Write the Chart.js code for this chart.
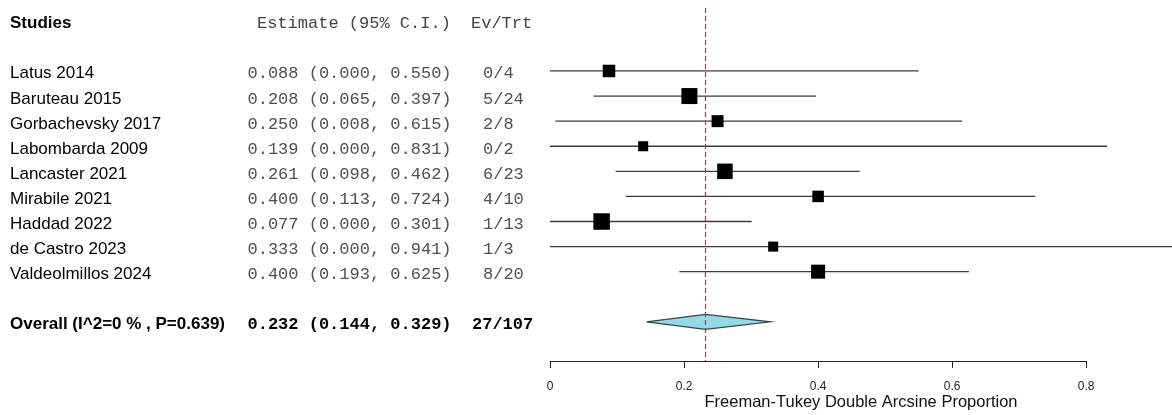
<!DOCTYPE html>
<html>
<head>
<meta charset="utf-8">
<script src="https://cdn.jsdelivr.net/npm/chart.js@4"></script>
<style>
  html, body { margin: 0; padding: 0; background: #fff; }
  #wrap { width: 1172px; height: 415px; }
</style>
</head>
<body>
<div id="wrap"><canvas id="forest"></canvas></div>
<script>
// Study-level data (Freeman-Tukey back-transformed proportions)
const studies = ['Latus 2014', 'Baruteau 2015', 'Gorbachevsky 2017', 'Labombarda 2009',
  'Lancaster 2021', 'Mirabile 2021', 'Haddad 2022', 'de Castro 2023', 'Valdeolmillos 2024'];
const estimates = [0.088, 0.208, 0.250, 0.139, 0.261, 0.400, 0.077, 0.333, 0.400];
const lower = [0.000, 0.065, 0.008, 0.000, 0.098, 0.113, 0.000, 0.000, 0.193];
const upper = [0.550, 0.397, 0.615, 0.831, 0.462, 0.724, 0.301, 0.941, 0.625];
const events = [0, 5, 2, 0, 6, 4, 1, 1, 8];
const totals = [4, 24, 8, 2, 23, 10, 13, 3, 20];
const weights = [9.8, 16.0, 9.0, 6.3, 15.0, 8.3, 17.0, 6.3, 12.3]; // % (box size)

// Pooled result
const overallCI = [0.144, 0.232, 0.329]; // lower, estimate, upper
const overallLabel = 'Overall (I^2=0 % , P=0.639)';

const xTicks = [0, 0.2, 0.4, 0.6, 0.8];
const axisTitle = 'Freeman-Tukey Double Arcsine Proportion';

const fmt = v => v.toFixed(3);
const sum = a => a.reduce((s, v) => s + v, 0);

const headerRow = -2;
const overallRow = studies.length + 1;
const yMin = -2.51, yMax = 11.56;
const diamondHalf = 0.3;

const ciSets = studies.map((s, i) => ({
    showLine: true,
    data: [{ x: lower[i], y: i }, { x: upper[i], y: i }],
    borderColor: '#3c3c3c',
    borderWidth: 1.3,
    pointRadius: 0
}));

const datasets = [
    // dashed line at pooled estimate (first = top-most)
    {
        showLine: true,
        data: [{ x: overallCI[1], y: yMin }, { x: overallCI[1], y: yMax }],
        borderColor: '#e0242a',
        borderWidth: 1.2,
        borderDash: [5, 3],
        pointRadius: 0
    },
    // study boxes
    {
        data: estimates.map((v, i) => ({ x: v, y: i })),
        pointStyle: 'rect',
        pointRadius: weights.map(w => 4.0 * Math.sqrt(w) / Math.SQRT2),
        backgroundColor: '#000',
        borderColor: '#000',
        borderWidth: 0
    },
    // pooled diamond
    {
        showLine: true,
        data: [
            { x: overallCI[0], y: overallRow },
            { x: overallCI[1], y: overallRow - diamondHalf },
            { x: overallCI[2], y: overallRow },
            { x: overallCI[1], y: overallRow + diamondHalf },
            { x: overallCI[0], y: overallRow }
        ],
        fill: 'shape',
        backgroundColor: '#97d8e6',
        borderColor: '#34474b',
        borderWidth: 1.2,
        pointRadius: 0
    },
    ...ciSets
];

const textColumns = {
    id: 'textColumns',
    afterDraw(chart) {
        const ctx = chart.ctx;
        const y = chart.scales.y;
        const x = chart.scales.x;
        const sans = '17px "Liberation Sans", Arial, sans-serif';
        const sansBold = 'bold 17px "Liberation Sans", Arial, sans-serif';
        const mono = '17px "Liberation Mono", "Courier New", monospace';
        const monoBold = 'bold 17px "Liberation Mono", "Courier New", monospace';
        const base = v => y.getPixelForValue(v) + 7.5;
        ctx.save();
        ctx.textBaseline = 'alphabetic';
        ctx.textAlign = 'left';

        // header
        let py = base(headerRow);
        ctx.fillStyle = '#000';
        ctx.font = sansBold;
        ctx.fillText('Studies', 10, py);
        ctx.fillStyle = '#444';
        ctx.font = mono;
        ctx.fillText('Estimate (95% C.I.)', 257, py);
        ctx.fillText('Ev/Trt', 471, py);

        // study rows
        studies.forEach((s, i) => {
            const ry = base(i);
            ctx.fillStyle = '#000';
            ctx.font = sans;
            ctx.fillText(s, 10, ry);
            ctx.fillStyle = '#505050';
            ctx.font = mono;
            ctx.fillText(`${fmt(estimates[i])} (${fmt(lower[i])}, ${fmt(upper[i])})`, 247.5, ry);
            ctx.fillText(`${events[i]}/${totals[i]}`, 483, ry);
        });

        // overall row
        py = base(overallRow);
        ctx.fillStyle = '#000';
        ctx.font = sansBold;
        ctx.fillText(overallLabel, 10, py);
        ctx.font = monoBold;
        ctx.fillText(`${fmt(overallCI[1])} (${fmt(overallCI[0])}, ${fmt(overallCI[2])})`, 247.5, py);
        ctx.fillText(`${sum(events)}/${sum(totals)}`, 472, py);

        // axis line spanning the labelled ticks only
        const ay = Math.round(chart.chartArea.bottom) + 0.5;
        ctx.strokeStyle = '#222';
        ctx.lineWidth = 1;
        ctx.beginPath();
        ctx.moveTo(x.getPixelForValue(xTicks[0]), ay);
        ctx.lineTo(x.getPixelForValue(xTicks[xTicks.length - 1]), ay);
        ctx.stroke();
        ctx.restore();
    }
};

new Chart(document.getElementById('forest'), {
    type: 'scatter',
    data: { datasets },
    options: {
        responsive: true,
        maintainAspectRatio: false,
        animation: false,
        events: [],
        layout: { autoPadding: false, padding: { left: 550, top: 8, right: 0, bottom: 0 } },
        plugins: { legend: { display: false }, tooltip: { enabled: false } },
        scales: {
            x: {
                type: 'linear',
                min: 0,
                max: 0.928,
                afterBuildTicks: s => { s.ticks = xTicks.map(v => ({ value: v })); },
                afterFit: s => { s.height = 54; s.paddingRight = 0; },
                ticks: {
                    font: { family: 'Liberation Sans', size: 12 },
                    color: '#222',
                    padding: 11,
                    maxRotation: 0,
                    callback: v => String(v)
                },
                grid: { drawOnChartArea: false, tickLength: 7, color: '#222', lineWidth: 1 },
                border: { display: false },
                title: {
                    display: true,
                    text: axisTitle,
                    font: { family: 'Liberation Sans', size: 16.5 },
                    color: '#111',
                    padding: { top: 0, bottom: 3 }
                }
            },
            y: {
                type: 'linear',
                display: false,
                reverse: true,
                min: yMin,
                max: yMax
            }
        }
    },
    plugins: [textColumns]
});
</script>
</body>
</html>
